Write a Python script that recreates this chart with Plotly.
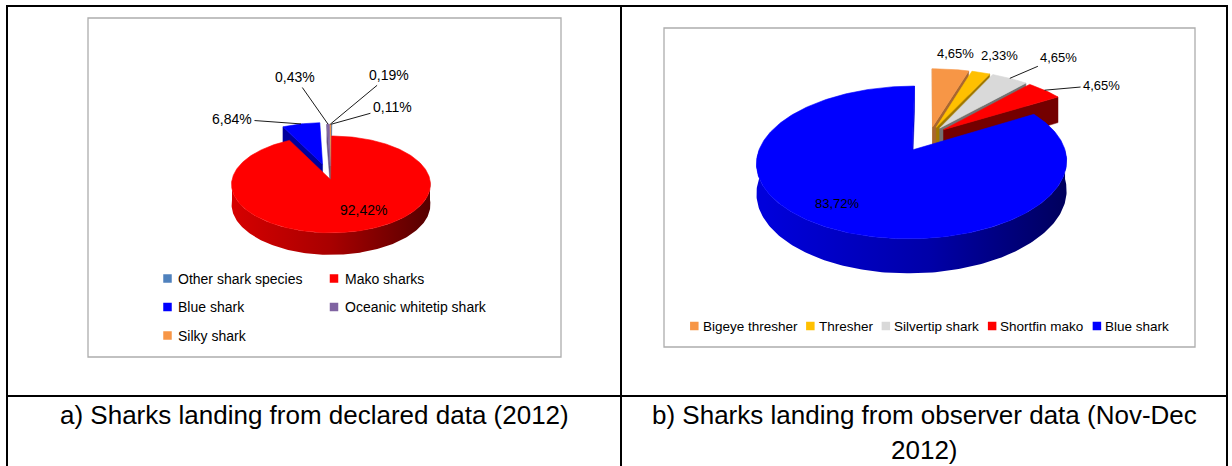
import math
import numpy as np
import plotly.graph_objects as go

# ---------------- data ----------------
a_labels = ["Other shark species", "Mako sharks", "Blue shark", "Oceanic whitetip shark", "Silky shark"]
a_values = [0.11, 92.42, 6.84, 0.43, 0.19]
a_colors = ["#4F81BD", "#FF0000", "#0000FF", "#8064A2", "#F79646"]

b_labels = ["Bigeye thresher", "Thresher", "Silvertip shark", "Shortfin mako", "Blue shark"]
b_values = [4.65, 2.33, 4.65, 4.65, 83.72]
b_colors = ["#F79646", "#FFC000", "#D9D9D9", "#FF0000", "#0000FF"]

caption_a = "a) Sharks landing from declared data (2012)"
caption_b1 = "b) Sharks landing from observer data (Nov-Dec"
caption_b2 = "2012)"

# ---------------- style / layout ----------------
W, HGT = 1232, 466
FONT = "Liberation Sans, Arial, sans-serif"

# 3-D pie geometry (pixels): centre, radius, tilt, perspective distance, wall height, explosion
PA = dict(cx=331, cy=180, R=99, s=0.485, D=1090, H=20, explode=[0.3, 0.0, 0.35, 0.3, 0.3])
PB = dict(cx=930, cy=135, R=148, s=0.47, D=944, H=28, explode=[0.12, 0.12, 0.12, 0.12, 0.24])

# label placement: (radius fraction, dx, dy, leader line)
A_LAB = [(1.0, 61, -17, True), (0.6, 18, 0, False), (1.0, -69, -5, True),
         (1.0, -33, -47, True), (1.0, 59, -49, True)]
B_LAB = [(1.0, 5, -16, False), (1.0, 19, -17, False), (1.0, 49, -21, True),
         (1.0, 57, -5, True), (0.6, -24, 11, False)]


def hex2rgb(h):
    return tuple(int(h[i:i + 2], 16) for i in (1, 3, 5))


def shade(h, f):
    r, g, b = hex2rgb(h)
    return f"rgb({int(r * f)},{int(g * f)},{int(b * f)})"


def fmt(v):
    return f"{v:.2f}".replace(".", ",") + "%"


def pie3d(values, colors, P):
    total = float(sum(values))
    R, H = P["R"], P["H"]

    def proj(u, v, h=0.0):
        f = P["D"] / (P["D"] + v)
        return P["cx"] + u * f, P["cy"] + (-v * P["s"] + h) * f

    walls, tops, geo = [], [], []
    start = 0.0
    for i, val in enumerate(values):
        a0 = start
        a1 = start + 360.0 * val / total
        start = a1
        mid = math.radians((a0 + a1) / 2)
        e = P["explode"][i] * R
        ou, ov = e * math.sin(mid), e * math.cos(mid)
        geo.append((ou, ov, mid))
        n = max(3, int(a1 - a0) + 2)
        th = np.radians(np.linspace(a0, a1, n))
        us = ou + R * np.sin(th)
        vs = ov + R * np.cos(th)
        pts = [proj(ou, ov)] + [proj(u, v) for u, v in zip(us, vs)]
        tops.append((float(np.mean(np.r_[vs, ov])), pts, colors[i]))
        # outer wall (front half only)
        w0, w1 = max(a0, 90.0), min(a1, 270.0)
        if w1 > w0:
            tw = np.radians(np.linspace(w0, w1, max(3, int(w1 - w0) + 2)))
            wu = ou + R * np.sin(tw)
            wv = ov + R * np.cos(tw)
            up = [proj(u, v, 0) for u, v in zip(wu, wv)]
            lo = [proj(u, v, H) for u, v in zip(wu, wv)][::-1]
            walls.append((float(np.mean(wv)), up + lo, ("grad", colors[i])))
        # radial cut faces
        for ang, sgn in ((a0, -1), (a1, 1)):
            t = math.radians(ang)
            nu, nv = sgn * math.cos(t), -sgn * math.sin(t)
            pu, pv = ou + 0.5 * R * math.sin(t), ov + 0.5 * R * math.cos(t)
            if nu * (-pu) + nv * (-P["D"] - pv) > 0:
                qu, qv = ou + R * math.sin(t), ov + R * math.cos(t)
                quad = [proj(ou, ov, 0), proj(qu, qv, 0), proj(qu, qv, H), proj(ou, ov, H)]
                f = min(0.85, max(0.35, 0.8 + 0.4 * nv))
                walls.append((pv, quad, shade(colors[i], f)))

    traces = []
    for depth, pts, col in sorted(walls, key=lambda w: -w[0]):
        xs = [p[0] for p in pts] + [pts[0][0]]
        ys = [p[1] for p in pts] + [pts[0][1]]
        if isinstance(col, tuple):
            c = col[1]
            traces.append(go.Scatter(
                x=xs, y=ys, mode="lines", fill="toself", line=dict(width=0),
                fillgradient=dict(type="horizontal",
                                  colorscale=[[0, shade(c, 0.86)], [0.5, shade(c, 0.66)], [1, shade(c, 0.3)]],
                                  start=P["cx"] - R * 1.12, stop=P["cx"] + R * 1.12),
                hoverinfo="skip", showlegend=False))
        else:
            traces.append(go.Scatter(x=xs, y=ys, mode="lines", fill="toself", fillcolor=col,
                                     line=dict(width=0.5, color=col), hoverinfo="skip", showlegend=False))
    for depth, pts, col in sorted(tops, key=lambda w: -w[0]):
        xs = [p[0] for p in pts] + [pts[0][0]]
        ys = [p[1] for p in pts] + [pts[0][1]]
        traces.append(go.Scatter(x=xs, y=ys, mode="lines", fill="toself", fillcolor=col,
                                 line=dict(width=0.6, color=col), hoverinfo="skip", showlegend=False))

    def anchor(i, rf):
        ou, ov, mid = geo[i]
        return proj(ou + rf * R * math.sin(mid), ov + rf * R * math.cos(mid))

    return traces, anchor


fig = go.Figure()
annotations = []
shapes = []

# table grid
line_kw = dict(color="black", width=2)
for x0, y0, x1, y1 in [(6, 6, 1228, 6), (7, 6, 7, HGT), (621, 6, 621, HGT), (1227, 6, 1227, HGT), (6, 396, 1228, 396)]:
    shapes.append(dict(type="line", xref="x", yref="y", x0=x0, y0=y0, x1=x1, y1=y1, line=line_kw, layer="above"))

# chart frames
for x0, y0, x1, y1 in [(88, 18, 561, 357), (664, 28, 1195, 347)]:
    shapes.append(dict(type="rect", xref="x", yref="y", x0=x0, y0=y0, x1=x1, y1=y1,
                       line=dict(color="#ADADAD", width=1.3), fillcolor="white", layer="below"))

# pies
for values, colors, P, labs, fsize in [(a_values, a_colors, PA, A_LAB, 14), (b_values, b_colors, PB, B_LAB, 13)]:
    trs, anchor = pie3d(values, colors, P)
    for t in trs:
        fig.add_trace(t)
    for i, (rf, dx, dy, lead) in enumerate(labs):
        x, y = anchor(i, rf)
        if lead:
            annotations.append(dict(x=x, y=y, xref="x", yref="y", ax=dx, ay=dy, text=fmt(values[i]),
                                    showarrow=True, arrowhead=0, arrowwidth=0.9, arrowcolor="black",
                                    standoff=0, startstandoff=1,
                                    font=dict(family=FONT, size=fsize, color="black")))
        else:
            annotations.append(dict(x=x + dx, y=y + dy, xref="x", yref="y", text=fmt(values[i]),
                                    showarrow=False, font=dict(family=FONT, size=fsize, color="black")))

# legend a: 2-column grid
SQ = 8.5
cols_x = [167.5, 334]
rows_y = [278.5, 307, 335.5]
lx, ly = [], []
for k in range(len(a_labels)):
    lx.append(cols_x[k % 2])
    ly.append(rows_y[k // 2])
fig.add_trace(go.Scatter(x=lx, y=ly, mode="markers",
                         marker=dict(symbol="square", size=SQ, color=a_colors, line=dict(width=0)),
                         hoverinfo="skip", showlegend=False))
for k, name in enumerate(a_labels):
    annotations.append(dict(x=lx[k] + 8.5, y=ly[k], xref="x", yref="y", text=name, showarrow=False,
                            xanchor="left", yanchor="middle", font=dict(family=FONT, size=14, color="black")))

# legend b: single centred row
AW = {' ': 278, 'a': 556, 'b': 556, 'c': 500, 'd': 556, 'e': 556, 'f': 278, 'g': 556, 'h': 556,
      'i': 222, 'k': 500, 'l': 222, 'm': 833, 'n': 556, 'o': 556, 'p': 556, 'r': 333, 's': 500,
      't': 278, 'u': 556, 'v': 500, 'y': 500, 'B': 667, 'S': 667, 'T': 611, 'O': 778, 'M': 833}


def textw(s, size):
    return sum(AW.get(ch, 556) for ch in s) * size / 1000.0


LB_SIZE = 13.5
gap_in, gap_out = 4.0, 9.0
widths = [textw(s, LB_SIZE) for s in b_labels]
total = sum(SQ + gap_in + w for w in widths) + gap_out * (len(widths) - 1)
xcur = (664 + 1195) / 2 - total / 2
bx, by = [], []
for k, name in enumerate(b_labels):
    bx.append(xcur + SQ / 2)
    by.append(326)
    annotations.append(dict(x=xcur + SQ + gap_in - 2, y=326, xref="x", yref="y", text=name, showarrow=False,
                            xanchor="left", yanchor="middle", font=dict(family=FONT, size=LB_SIZE, color="black")))
    xcur += SQ + gap_in + widths[k] + gap_out
fig.add_trace(go.Scatter(x=bx, y=by, mode="markers",
                         marker=dict(symbol="square", size=SQ, color=b_colors, line=dict(width=0)),
                         hoverinfo="skip", showlegend=False))

# captions
cap_font = dict(family=FONT, size=26, color="black")
annotations.append(dict(x=(7 + 621) / 2, y=415, xref="x", yref="y", text=caption_a, showarrow=False, font=cap_font))
annotations.append(dict(x=(621 + 1227) / 2, y=415, xref="x", yref="y", text=caption_b1, showarrow=False, font=cap_font))
annotations.append(dict(x=(621 + 1227) / 2, y=450, xref="x", yref="y", text=caption_b2, showarrow=False, font=cap_font))

fig.update_layout(
    width=W, height=HGT, margin=dict(l=0, r=0, t=0, b=0),
    paper_bgcolor="white", plot_bgcolor="white", showlegend=False,
    xaxis=dict(range=[0, W], visible=False, fixedrange=True),
    yaxis=dict(range=[HGT, 0], visible=False, fixedrange=True),
    shapes=shapes, annotations=annotations,
)

fig.write_html("out.html")
